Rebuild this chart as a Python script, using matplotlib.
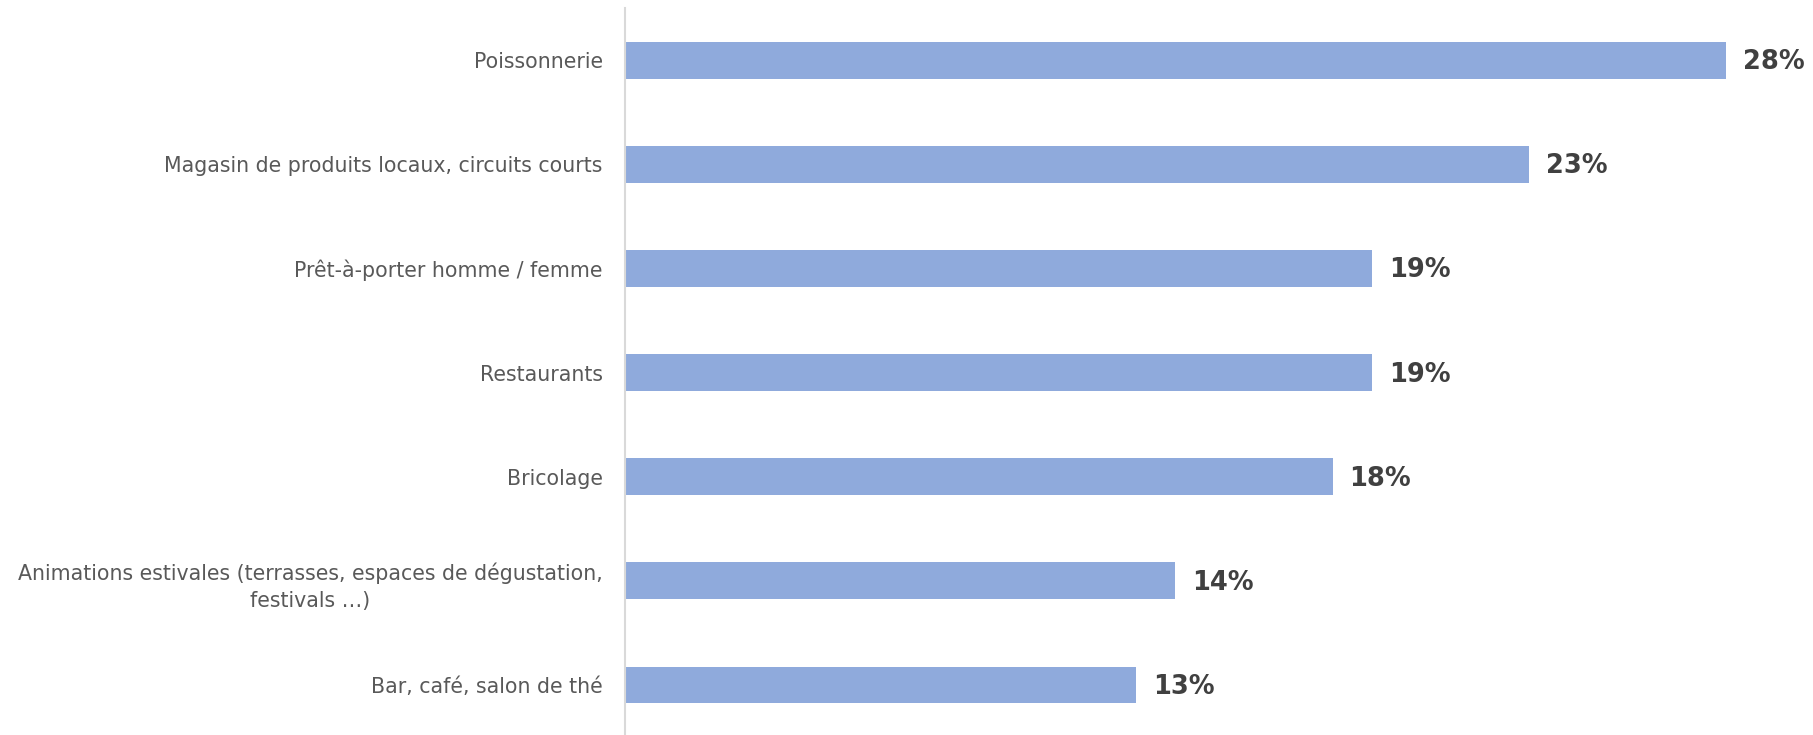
import matplotlib
matplotlib.use("Agg")
import matplotlib.pyplot as plt

categories = [
    "Poissonnerie",
    "Magasin de produits locaux, circuits courts",
    "Prêt-à-porter homme / femme",
    "Restaurants",
    "Bricolage",
    "Animations estivales (terrasses, espaces de dégustation,\nfestivals …)",
    "Bar, café, salon de thé",
]
values = [28, 23, 19, 19, 18, 14, 13]
value_labels = ["28%", "23%", "19%", "19%", "18%", "14%", "13%"]

BAR_COLOR = "#8FAADC"
LABEL_COLOR = "#595959"
VALUE_COLOR = "#404040"

W, H, DPI = 1813, 735, 100
fig = plt.figure(figsize=(W / DPI, H / DPI), dpi=DPI)
fig.patch.set_facecolor("white")

left = 625 / W
top = 1 - 8 / H
ax = fig.add_axes([left, 0.0, 1 - left, top])

pos = list(range(len(categories)))
ax.barh(pos, values, height=0.355, color=BAR_COLOR, linewidth=0, zorder=2)

ax.set_xlim(0, (W - 625) / 39.32)
ax.set_ylim(6.48, -0.5)

for y, v, lab in zip(pos, values, value_labels):
    ax.annotate(lab, xy=(v, y), xytext=(12, -1.5), textcoords="offset points",
                ha="left", va="center", fontsize=18.5, fontweight="bold",
                color=VALUE_COLOR, family="DejaVu Sans")

ax.set_yticks(pos)
ax.set_yticklabels(categories, fontsize=14.8, color=LABEL_COLOR,
                   family="DejaVu Sans", linespacing=1.45)
for t in ax.get_yticklabels():
    t.set_multialignment("center")
ax.tick_params(axis="y", length=0, pad=16)
ax.set_xticks([])

for s in ("top", "right", "bottom"):
    ax.spines[s].set_visible(False)
ax.spines["left"].set_color("#D9D9D9")
ax.spines["left"].set_linewidth(1.5)

fig.savefig("out.png", dpi=DPI, facecolor="white")
